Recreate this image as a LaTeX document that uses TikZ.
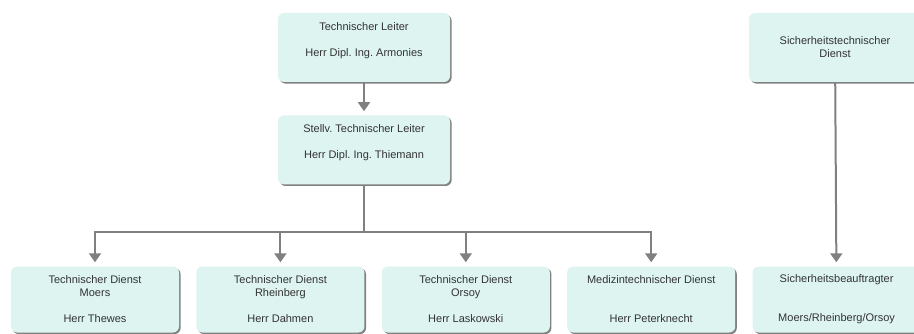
\documentclass[tikz,border=0pt]{standalone}
\usepackage{fontspec}
\setmainfont{Liberation Sans}
\usepackage{tikz}
\usetikzlibrary{
  arrows.meta,
  positioning,
  shadows
}
\usepackage{xcolor}
\definecolor{boxfill}{HTML}{DDF4F1}
\definecolor{linegray}{HTML}{808080}
\definecolor{textgray}{HTML}{333333}
\frenchspacing
\tikzset{
  unit/.style={
    rectangle, draw=none, fill=boxfill, rounded corners=6pt,
    minimum width=168pt, minimum height=66pt, inner sep=2pt,
    font=\fontsize{11}{13}\selectfont, text=textgray, align=center,
    drop shadow={shadow xshift=1.6pt, shadow yshift=-1.6pt, fill=black!55, opacity=0.9}
  },
  head/.style={unit, minimum width=172pt, minimum height=69pt},
  arrow/.style={-{Triangle[width=12pt, length=9pt]}, draw=linegray, line width=2pt, shorten >=4pt},
  link/.style={draw=linegray, line width=2pt},
}

\begin{document}
\begin{tikzpicture}[x=1pt, y=-1pt, node distance=17pt]
\useasboundingbox (0,0) rectangle (914,334);

\node[head] (leiter) at (364,47.5) {Technischer Leiter\\[13pt]Herr Dipl. Ing. Armonies\\\strut};
\node[head, below=33pt of leiter] (stellv) {Stellv. Technischer Leiter\\[13pt]Herr Dipl. Ing. Thiemann\\\strut};
\node[head] (sdienst) at (835,47.5) {Sicherheitstechnischer\\Dienst};

\node[unit] (moers) at (95,299.5) {Technischer Dienst\\Moers\\[13pt]Herr Thewes};
\node[unit, right=of moers] (rheinberg) {Technischer Dienst\\Rheinberg\\[13pt]Herr Dahmen};
\node[unit, right=of rheinberg] (orsoy) {Technischer Dienst\\Orsoy\\[13pt]Herr Laskowski};
\node[unit, right=of orsoy] (medizin) {Medizintechnischer Dienst\\[26pt]Herr Peterknecht};
\node[unit, right=of medizin] (sbeauf) {Sicherheitsbeauftragter\\[26pt]Moers/Rheinberg/Orsoy};

\coordinate (bus) at (364,232);

\draw[arrow] (leiter) -- (stellv);
\draw[link] (stellv.south) -- (bus);
\draw[arrow] (bus) -| (moers.north);
\draw[arrow] (bus) -| (rheinberg.north);
\draw[arrow] (bus) -| (orsoy.north);
\draw[arrow] (bus) -| (medizin.north);

% Sicherheit, separate line
\draw[arrow] (sdienst) -- (sbeauf);

\end{tikzpicture}
\end{document}
